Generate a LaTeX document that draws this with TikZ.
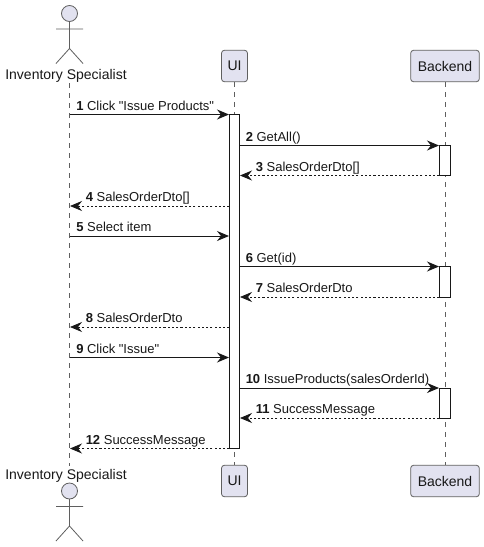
\documentclass[tikz,border=0pt]{standalone}
\usepackage{fontspec}
\newfontfamily\diagramfont{Liberation Sans}
\usetikzlibrary{arrows.meta}
\definecolor{partfill}{HTML}{E2E2F0}
\definecolor{ink}{HTML}{181818}
\definecolor{edge}{HTML}{5F5F5F}
\newcommand{\actorfig}[1]{%
  \draw[actorline,fill=partfill] (69.5,#1) circle (8);
  \draw[actorline] (69.5,#1+8) -- (69.5,#1+35) (56,#1+15.5) -- (83,#1+15.5)
    (56,#1+50) -- (69.5,#1+35) -- (83,#1+50);}
\newcommand{\msg}[5]{% id, y, from x, to x, style
  \coordinate (s#1) at (#3,#2);
  \coordinate (e#1) at (#4,#2);
  \draw[#5] (s#1) -- (e#1);}
\tikzset{
  x=0.75pt,y=-0.75pt,
  actorline/.style={draw=edge,line width=0.6pt},
  lifeline/.style={draw=edge,line width=0.45pt,dash pattern=on 3.75pt off 3.75pt},
  partbox/.style={draw=edge,line width=0.6pt,fill=partfill,rounded corners=2.2pt,inner sep=0pt,font=\diagramfont\fontsize{10.5pt}{12pt}\selectfont,text=ink},
  actorlabel/.style={inner sep=0pt,font=\diagramfont\fontsize{10.5pt}{12pt}\selectfont,text=ink},
  activation/.style={draw=ink,line width=0.7pt,fill=white},
  callmsg/.style={draw=ink,line width=0.75pt,-{Stealth[length=9pt,width=7.5pt,inset=3pt]}},
  retmsg/.style={draw=ink,line width=0.6pt,dash pattern=on 1.6pt off 1.6pt,-{Stealth[length=9pt,width=7.5pt,inset=3pt]}},
  msglabel/.style={anchor=base west,inner sep=0pt,font=\diagramfont\fontsize{9.75pt}{12pt}\selectfont,text=ink},
}
\begin{document}
\begin{tikzpicture}
\useasboundingbox (0,0) rectangle (484,547);
\fill[white] (0,0) rectangle (484,547);
% lifelines
\coordinate (atop) at (69.5,83);
\coordinate (abot) at (69.5,466);
\draw[lifeline] (atop) -- (abot);
\node[partbox,minimum width=19.5pt,minimum height=23.6pt] (uiT) at (234.5,66) {UI};
\node[partbox,minimum width=51.5pt,minimum height=23.6pt] (beT) at (445,66) {Backend};
\node[partbox,minimum width=19.5pt,minimum height=23.6pt] (uiB) at (234.5,481) {UI};
\node[partbox,minimum width=51.5pt,minimum height=23.6pt] (beB) at (445,481) {Backend};
\draw[lifeline] (uiT) -- (uiB);
\draw[lifeline] (beT) -- (beB);
% actors
\actorfig{13.5}
\node[actorlabel] (aT) at (66,75.5) {Inventory Specialist};
\actorfig{491}
\node[actorlabel] (aB) at (66,475.5) {Inventory Specialist};
% activations
\draw[activation] (229.5,114.5) rectangle (239.5,448.5);
\draw[activation] (439.5,145.5) rectangle (450,175.5);
\draw[activation] (439.5,266.5) rectangle (450,297);
\draw[activation] (439.5,388) rectangle (450,418);
% messages
\msg{a}{114.5}{69.5}{229}{callmsg}
\msg{b}{145.5}{240}{439}{callmsg}
\msg{c}{175.5}{439.5}{240}{retmsg}
\msg{d}{206}{229.5}{70}{retmsg}
\msg{f}{236}{69.5}{229}{callmsg}
\msg{g}{266.5}{240}{439}{callmsg}
\msg{h}{297}{439.5}{240}{retmsg}
\msg{i}{327}{229.5}{70}{retmsg}
\msg{j}{357.5}{69.5}{229}{callmsg}
\msg{k}{388}{240}{439}{callmsg}
\msg{l}{418}{439.5}{240}{retmsg}
\msg{m}{448.5}{229.5}{70}{retmsg}
% labels
\node[msglabel] (m1) at (76,110) {\textbf{1} Click "Issue Products"};
\node[msglabel] (m2) at (245.5,141) {\textbf{2} GetAll()};
\node[msglabel] (m3) at (255.5,171) {\textbf{3} SalesOrderDto[]};
\node[msglabel] (m4) at (85.5,201.5) {\textbf{4} SalesOrderDto[]};
\node[msglabel] (m5) at (76,231.5) {\textbf{5} Select item};
\node[msglabel] (m6) at (245.5,262) {\textbf{6} Get(id)};
\node[msglabel] (m7) at (255.5,292.5) {\textbf{7} SalesOrderDto};
\node[msglabel] (m8) at (85.5,322.5) {\textbf{8} SalesOrderDto};
\node[msglabel] (m9) at (76,353) {\textbf{9} Click "Issue"};
\node[msglabel] (m10) at (245.5,383.5) {\textbf{10} IssueProducts(salesOrderId)};
\node[msglabel] (m11) at (255.5,413.5) {\textbf{11} SuccessMessage};
\node[msglabel] (m12) at (85.5,444) {\textbf{12} SuccessMessage};
\end{tikzpicture}
\end{document}
